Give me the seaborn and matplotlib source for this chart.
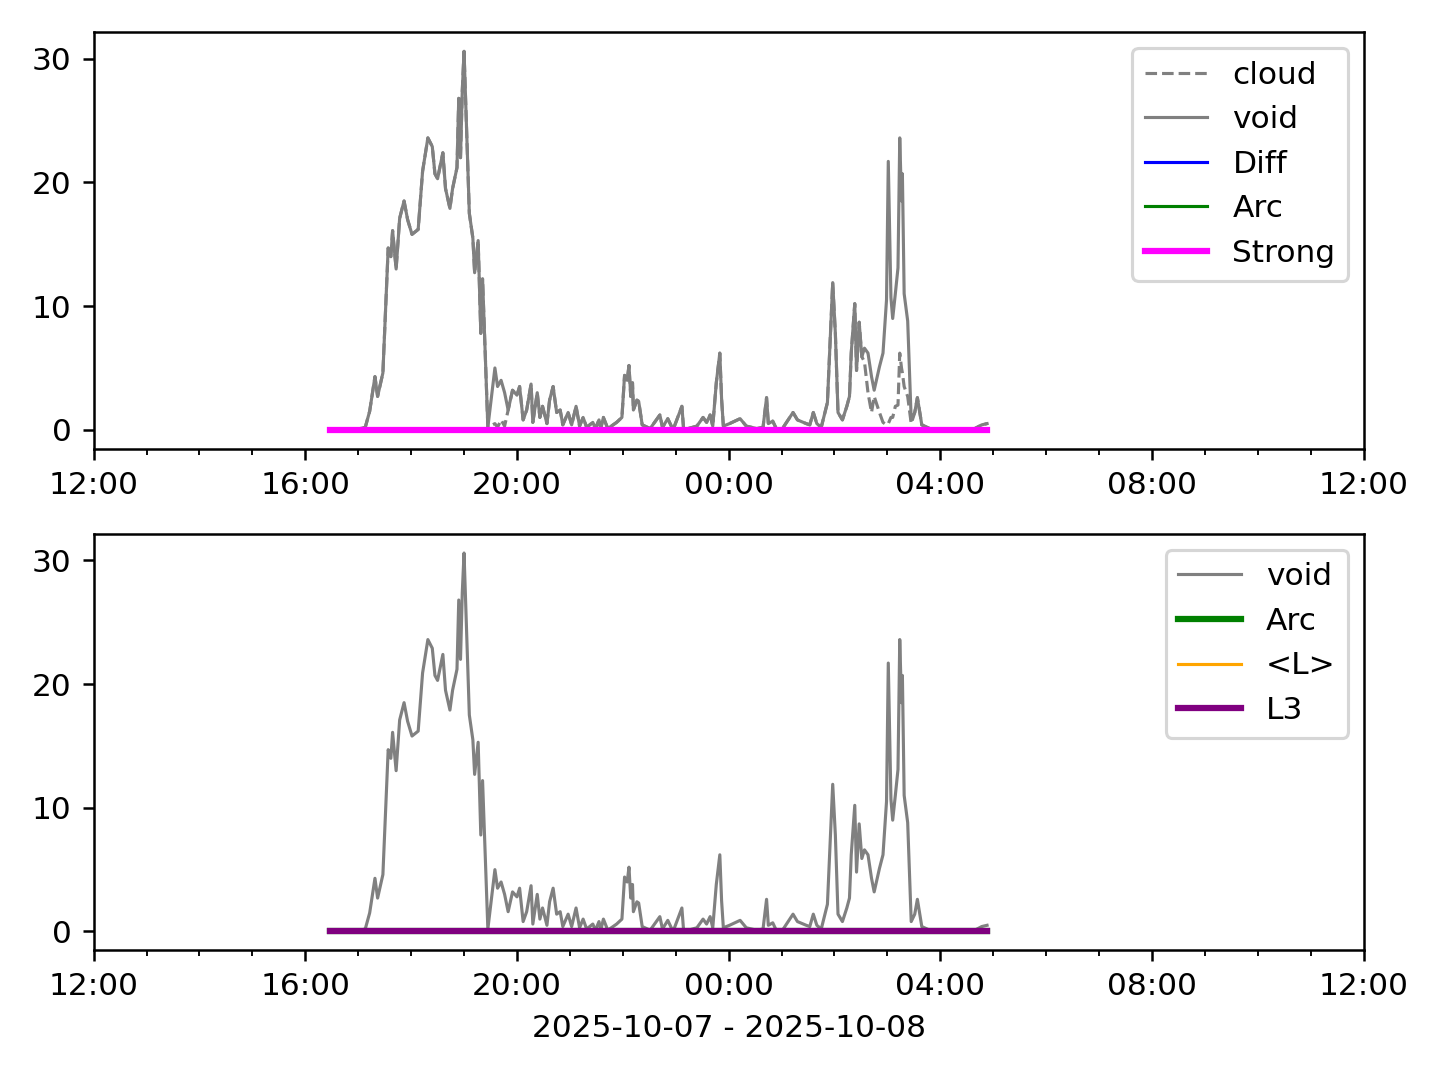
import numpy as np
import pandas as pd
import matplotlib
matplotlib.use("Agg")
import matplotlib.pyplot as plt
import matplotlib.dates as mdates
import seaborn as sns

# Readings (night of 2025-10-07 -> 2025-10-08)
times = [
    "10-07 16:28", "10-07 16:45", "10-07 17:02", "10-07 17:08", "10-07 17:13", "10-07 17:19",
    "10-07 17:22", "10-07 17:28", "10-07 17:30", "10-07 17:34", "10-07 17:37", "10-07 17:39",
    "10-07 17:43", "10-07 17:47", "10-07 17:52", "10-07 17:56", "10-07 18:01", "10-07 18:08",
    "10-07 18:13", "10-07 18:19", "10-07 18:24", "10-07 18:27", "10-07 18:30", "10-07 18:36",
    "10-07 18:39", "10-07 18:44", "10-07 18:47", "10-07 18:52", "10-07 18:54", "10-07 18:56",
    "10-07 18:58", "10-07 19:00", "10-07 19:03", "10-07 19:06", "10-07 19:10", "10-07 19:12",
    "10-07 19:16", "10-07 19:19", "10-07 19:21", "10-07 19:27", "10-07 19:35", "10-07 19:38",
    "10-07 19:42", "10-07 19:46", "10-07 19:50", "10-07 19:55", "10-07 20:00", "10-07 20:03",
    "10-07 20:07", "10-07 20:11", "10-07 20:16", "10-07 20:18", "10-07 20:23", "10-07 20:26",
    "10-07 20:29", "10-07 20:34", "10-07 20:37", "10-07 20:41", "10-07 20:45", "10-07 20:49",
    "10-07 20:52", "10-07 20:58", "10-07 21:02", "10-07 21:07", "10-07 21:11", "10-07 21:15",
    "10-07 21:19", "10-07 21:26", "10-07 21:29", "10-07 21:33", "10-07 21:35", "10-07 21:38",
    "10-07 21:43", "10-07 21:53", "10-07 21:59", "10-07 22:02", "10-07 22:05", "10-07 22:07",
    "10-07 22:09", "10-07 22:11", "10-07 22:12", "10-07 22:16", "10-07 22:18", "10-07 22:22",
    "10-07 22:31", "10-07 22:42", "10-07 22:45", "10-07 22:51", "10-07 22:57", "10-07 23:07",
    "10-07 23:09", "10-07 23:24", "10-07 23:31", "10-07 23:35", "10-07 23:39", "10-07 23:42",
    "10-07 23:46", "10-07 23:50", "10-07 23:52", "10-07 23:54", "10-08 00:01", "10-08 00:13",
    "10-08 00:20", "10-08 00:32", "10-08 00:39", "10-08 00:43", "10-08 00:45", "10-08 00:50",
    "10-08 00:54", "10-08 01:01", "10-08 01:13", "10-08 01:18", "10-08 01:28", "10-08 01:32",
    "10-08 01:36", "10-08 01:40", "10-08 01:45", "10-08 01:52", "10-08 01:58", "10-08 02:01",
    "10-08 02:04", "10-08 02:09", "10-08 02:14", "10-08 02:17", "10-08 02:19", "10-08 02:23",
    "10-08 02:25", "10-08 02:28", "10-08 02:31", "10-08 02:34", "10-08 02:38", "10-08 02:42",
    "10-08 02:45", "10-08 02:51", "10-08 02:55", "10-08 02:59", "10-08 03:01", "10-08 03:04",
    "10-08 03:06", "10-08 03:09", "10-08 03:12", "10-08 03:14", "10-08 03:16", "10-08 03:17",
    "10-08 03:19", "10-08 03:23", "10-08 03:27", "10-08 03:31", "10-08 03:34", "10-08 03:39",
    "10-08 03:48", "10-08 04:22", "10-08 04:39", "10-08 04:47", "10-08 04:53",
]
void = [
    0.0, 0.0, 0.1, 0.2, 1.5, 4.3,
    2.7, 4.6, 8.0, 14.7, 14.0, 16.1,
    13.0, 17.1, 18.5, 17.0, 15.8, 16.2,
    20.9, 23.6, 22.9, 20.7, 20.3, 22.4,
    19.5, 17.9, 19.5, 21.2, 26.8, 22.0,
    27.4, 30.6, 24.1, 17.5, 15.5, 12.7,
    15.3, 7.8, 12.2, 0.2, 5.0, 3.5,
    4.0, 3.0, 1.6, 3.2, 2.8, 3.5,
    0.8, 1.6, 3.7, 0.6, 3.0, 1.0,
    1.9, 0.5, 2.4, 3.5, 1.4, 1.6,
    0.4, 1.4, 0.4, 1.9, 0.3, 1.0,
    0.2, 0.6, 0.1, 0.8, 0.1, 1.0,
    0.1, 0.6, 1.0, 4.4, 4.0, 5.2,
    2.7, 3.8, 1.6, 2.4, 2.3, 0.4,
    0.1, 1.2, 0.2, 0.9, 0.0, 1.9,
    0.0, 0.3, 1.0, 0.6, 1.2, 0.3,
    3.8, 6.2, 2.5, 0.3, 0.5, 0.9,
    0.3, 0.1, 0.2, 2.6, 0.5, 0.7,
    0.1, 0.1, 1.4, 0.8, 0.5, 0.4,
    1.4, 0.5, 0.2, 2.2, 11.9, 7.8,
    1.4, 0.8, 1.9, 2.7, 6.2, 10.2,
    4.8, 8.7, 5.9, 6.6, 6.2, 4.3,
    3.2, 5.1, 6.2, 10.5, 21.7, 10.7,
    9.0, 11.0, 13.1, 23.6, 18.5, 20.7,
    11.0, 8.8, 0.8, 1.4, 2.6, 0.4,
    0.1, 0.0, 0.1, 0.4, 0.5,
]

# cloud follows void except where the dashed line drops below it
cloud_times = [
    "10-07 19:35", "10-07 19:38", "10-07 19:42", "10-07 19:46",
    "10-08 02:34", "10-08 02:38", "10-08 02:42", "10-08 02:45", "10-08 02:51",
    "10-08 02:55", "10-08 02:59", "10-08 03:01", "10-08 03:04", "10-08 03:06",
    "10-08 03:09", "10-08 03:12", "10-08 03:14", "10-08 03:16", "10-08 03:17",
    "10-08 03:19", "10-08 03:23", "10-08 03:27",
]
cloud_vals = [
    0.5, 0.2, 0.8, 0.3,
    5.5, 3.0, 1.4, 2.7, 1.4,
    0.6, 0.4, 0.5, 1.0, 1.0,
    1.9, 2.0, 6.2, 5.0, 4.6,
    3.5, 2.7, 0.5,
]

# other indices are flat at zero for the whole night
flat = [0.0] * len(times)

df = pd.DataFrame({
    "time": pd.to_datetime(["2025-" + t for t in times]),
    "void": void,
})
df["cloud"] = df["void"]
cloud_idx = df["time"].isin(pd.to_datetime(["2025-" + t for t in cloud_times]))
df.loc[cloud_idx, "cloud"] = cloud_vals
df["zero"] = flat

fig, (ax1, ax2) = plt.subplots(2, 1, figsize=(6.4, 4.8), dpi=225)

# Top panel
sns.lineplot(data=df, x="time", y="cloud", ax=ax1, color="gray", lw=1, ls="--", label="cloud")
sns.lineplot(data=df, x="time", y="void", ax=ax1, color="gray", lw=1, label="void")
sns.lineplot(data=df, x="time", y="zero", ax=ax1, color="blue", lw=1, label="Diff")
sns.lineplot(data=df, x="time", y="zero", ax=ax1, color="green", lw=1, label="Arc")
sns.lineplot(data=df, x="time", y="zero", ax=ax1, color="magenta", lw=2, label="Strong")

# Bottom panel
sns.lineplot(data=df, x="time", y="void", ax=ax2, color="gray", lw=1, label="void")
sns.lineplot(data=df, x="time", y="zero", ax=ax2, color="green", lw=2, label="Arc")
sns.lineplot(data=df, x="time", y="zero", ax=ax2, color="orange", lw=1, label="<L>")
sns.lineplot(data=df, x="time", y="zero", ax=ax2, color="purple", lw=2, label="L3")

for ax in (ax1, ax2):
    ax.set_xlim(pd.Timestamp("2025-10-07 12:00"), pd.Timestamp("2025-10-08 12:00"))
    ax.xaxis.set_major_locator(mdates.HourLocator(byhour=[0, 4, 8, 12, 16, 20]))
    ax.xaxis.set_minor_locator(mdates.HourLocator())
    ax.xaxis.set_major_formatter(mdates.DateFormatter("%H:%M"))
    ax.set_yticks([0, 10, 20, 30])
    ax.set_ylabel("")
    ax.set_xlabel("")
    ax.legend(loc="upper right")

ax2.set_xlabel("2025-10-07 - 2025-10-08")

fig.subplots_adjust(left=0.065, right=0.947, top=0.97, bottom=0.12, hspace=0.205)
fig.savefig("out.png", dpi=225)
